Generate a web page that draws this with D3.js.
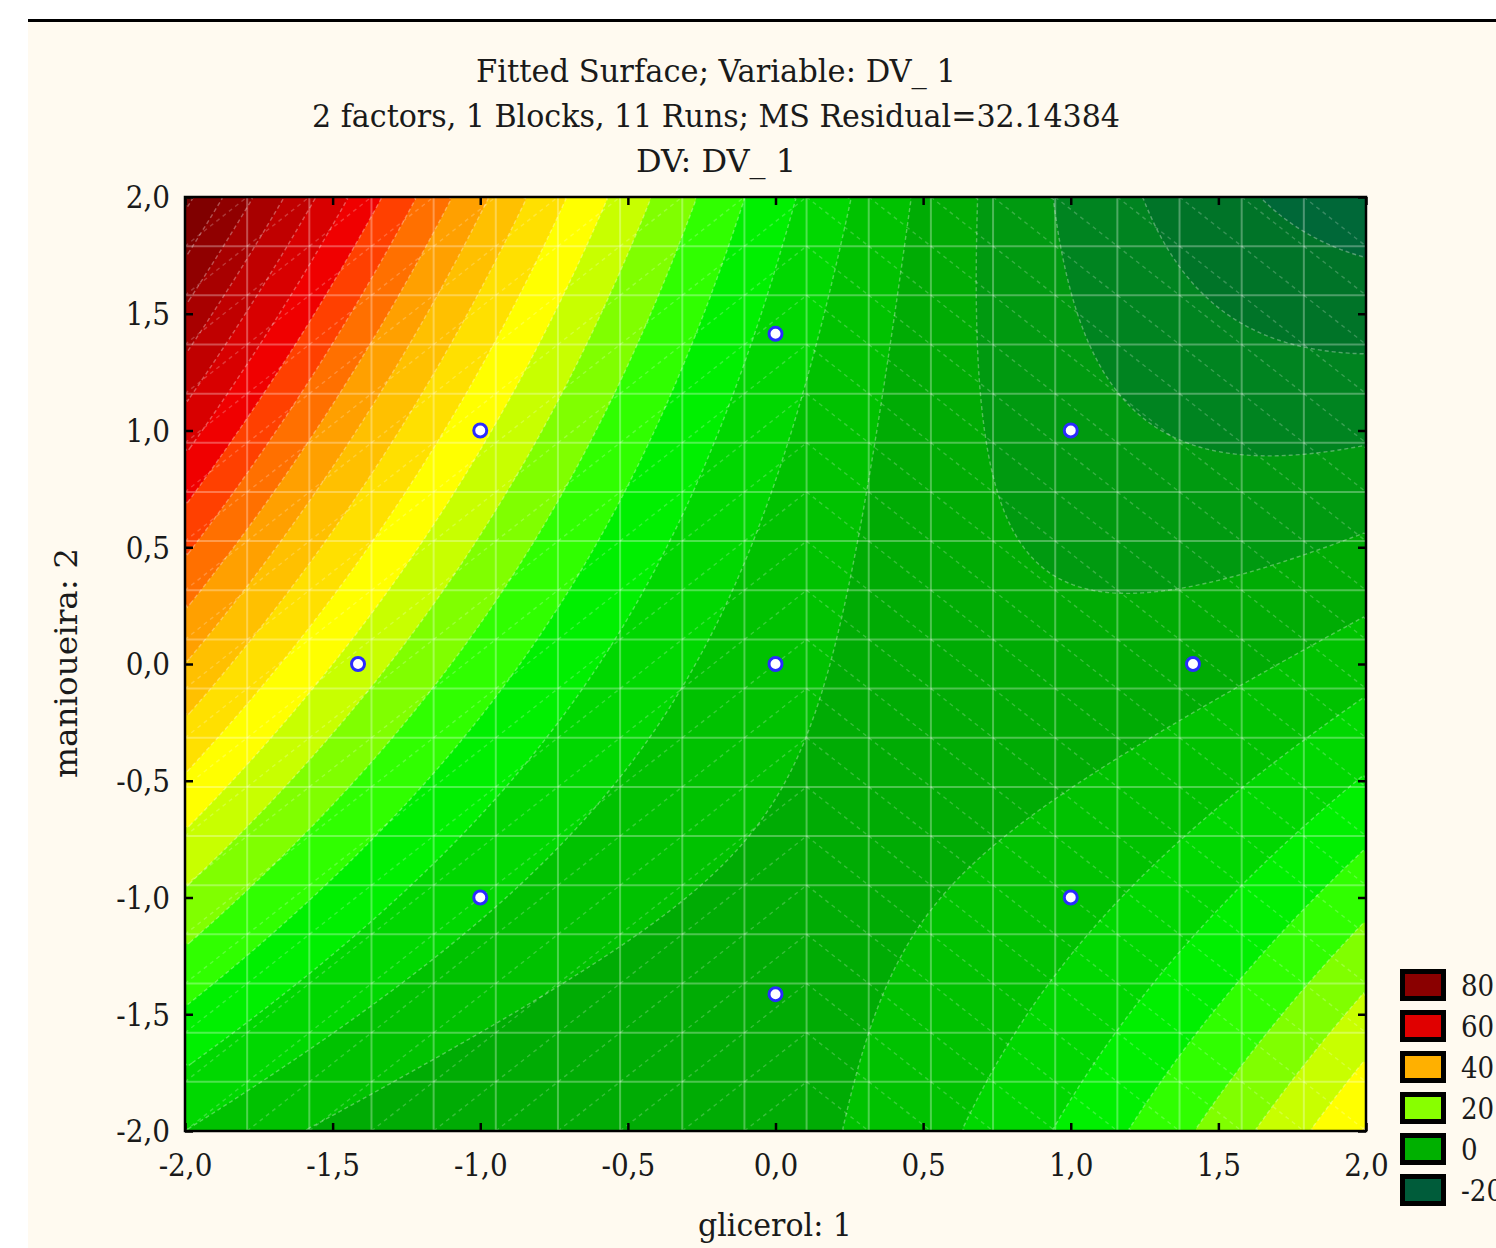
<!DOCTYPE html>
<html><head><meta charset="utf-8">
<script src="https://cdn.jsdelivr.net/npm/d3@7"></script>
<style>html,body{margin:0;padding:0;background:#fff;} svg{display:block}</style>
</head><body><svg id="c" width="1496" height="1248"></svg>
<script>
// ---------------- data ----------------
const titleLines = ["Fitted Surface; Variable: DV_ 1", "2 factors, 1 Blocks, 11 Runs; MS Residual=32.14384", "DV: DV_ 1"];
const xAxisLabel = "glicerol: 1";
const yAxisLabel = "manioueira: 2";
const xTickValues = [-2, -1.5, -1, -0.5, 0, 0.5, 1, 1.5, 2];
const yTickValues = [-2, -1.5, -1, -0.5, 0, 0.5, 1, 1.5, 2];
// fitted quadratic model (coded units): const, x, y, x^2, y^2, x*y
const modelTerms = ["const", "x", "y", "x2", "y2", "xy"];
const modelCoefficients = [1.75, -10.5, 3.5, 5.56, 0.81, -9.06];
// design runs (central composite design)
const designX = [-1, 1, -1, 1, -1.414, 1.414, 0, 0, 0];
const designY = [-1, -1, 1, 1, 0, 0, -1.414, 1.414, 0];
// contour levels (lower bound of each band) and band colours
const contourLevels = [-25, -20, -15, -10, -5, 0, 5, 10, 15, 20, 25, 30, 35, 40, 45, 50, 55, 60, 65, 70, 75, 80, 85, 90];
const levelColors = ["#006838", "#007428", "#008420", "#009a10", "#00ac04", "#00c200", "#00d800", "#00f000",
  "#30ff00", "#80ff00", "#c8ff00", "#ffff00", "#ffe000", "#ffc000", "#ffa000", "#ff7000",
  "#ff4000", "#f00000", "#d80000", "#c00000", "#a80000", "#900000", "#800000", "#700000"];
const legendValues = ["80", "60", "40", "20", "0", "-20"];
const legendColors = ["#8a0000", "#e00000", "#ffb000", "#88ff00", "#00b000", "#005c3a"];
const meshDivisions = 19;

// ---------------- layout ----------------
const svg = d3.select("#c");
const W = 1496, H = 1248;
const P = {l: 185, r: 1366, t: 197, b: 1131};
const FONT = "'DejaVu Serif Condensed','DejaVu Serif',serif";

svg.append("rect").attr("x", 28).attr("y", 22).attr("width", W - 28).attr("height", H - 22).attr("fill", "#fffaf0");
svg.append("line").attr("x1", 28).attr("x2", W).attr("y1", 20.5).attr("y2", 20.5).attr("stroke", "#000").attr("stroke-width", 3);

const x = d3.scaleLinear().domain([-2, 2]).range([P.l, P.r]);
const y = d3.scaleLinear().domain([-2, 2]).range([P.b, P.t]);
const color = d3.scaleOrdinal().domain(contourLevels).range(levelColors);

function model(a, b) {
  const c = modelCoefficients;
  return c[0] + c[1] * a + c[2] * b + c[3] * a * a + c[4] * b * b + c[5] * a * b;
}

// grid of fitted values
const n = 240, m = 240;
const values = new Array(n * m);
for (let j = 0; j < m; j++) for (let i = 0; i < n; i++) {
  const xv = -2 + 4 * (i + 0.5) / n;
  const yv = 2 - 4 * (j + 0.5) / m;
  values[j * n + i] = model(xv, yv);
}
const contours = d3.contours().size([n, m]).thresholds(contourLevels)(values);
const proj = d3.geoTransform({
  point: function (px, py) { this.stream.point(x(-2 + 4 * px / n), y(2 - 4 * py / m)); }
});
const path = d3.geoPath(proj);

svg.append("clipPath").attr("id", "clip").append("rect")
  .attr("x", P.l).attr("y", P.t).attr("width", P.r - P.l).attr("height", P.b - P.t);
const plot = svg.append("g").attr("clip-path", "url(#clip)");

plot.selectAll("path.band").data(contours).join("path").attr("class", "band")
  .attr("d", path).attr("fill", d => color(d.value)).attr("stroke", "none");
plot.selectAll("path.iso").data(contours.slice(1)).join("path").attr("class", "iso")
  .attr("d", path).attr("fill", "none").attr("stroke", "#ffffff").attr("stroke-opacity", 0.32)
  .attr("stroke-width", 1.4).attr("stroke-dasharray", "4,3");

// mesh
const mesh = d3.range(meshDivisions + 1).map(k => -2 + 4 * k / meshDivisions);
const diag = [];
for (let c = 0; c < meshDivisions; c++) for (let r = 0; r < meshDivisions; r++) {
  const x0 = mesh[c], x1 = mesh[c + 1], y0 = mesh[r], y1 = mesh[r + 1];
  if (c < 10) diag.push([x0, y0, x1, y1]); else diag.push([x0, y1, x1, y0]);
}
plot.selectAll("line.diag").data(diag).join("line").attr("class", "diag")
  .attr("x1", d => x(d[0])).attr("y1", d => y(d[1])).attr("x2", d => x(d[2])).attr("y2", d => y(d[3]))
  .attr("stroke", "#ffffff").attr("stroke-opacity", 0.22).attr("stroke-width", 1.4).attr("stroke-dasharray", "4,4");
plot.selectAll("line.gv").data(mesh).join("line").attr("class", "gv")
  .attr("x1", d => x(d)).attr("x2", d => x(d)).attr("y1", P.t).attr("y2", P.b)
  .attr("stroke", "#ffffff").attr("stroke-opacity", 0.3).attr("stroke-width", 2);
plot.selectAll("line.gh").data(mesh).join("line").attr("class", "gh")
  .attr("y1", d => y(d)).attr("y2", d => y(d)).attr("x1", P.l).attr("x2", P.r)
  .attr("stroke", "#ffffff").attr("stroke-opacity", 0.3).attr("stroke-width", 2);

// design points
svg.selectAll("circle.pt").data(designX.map((d, i) => [d, designY[i]])).join("circle").attr("class", "pt")
  .attr("cx", d => x(d[0])).attr("cy", d => y(d[1])).attr("r", 6.5)
  .attr("fill", "#ffffff").attr("stroke", "#2a2aff").attr("stroke-width", 3);

// frame
svg.append("rect").attr("x", P.l).attr("y", P.t).attr("width", P.r - P.l).attr("height", P.b - P.t)
  .attr("fill", "none").attr("stroke", "#000").attr("stroke-width", 2.5);

// axes (inward ticks on all sides)
const fmt = v => d3.format(".1f")(v).replace(".", ",").replace("−", "-");
const tl = 8;
const axB = svg.append("g").attr("transform", `translate(0,${P.b})`).call(d3.axisBottom(x).tickValues(xTickValues).tickSize(-tl).tickPadding(23).tickFormat(fmt));
const axT = svg.append("g").attr("transform", `translate(0,${P.t})`).call(d3.axisTop(x).tickValues(xTickValues).tickSize(-tl).tickFormat(""));
const axL = svg.append("g").attr("transform", `translate(${P.l},0)`).call(d3.axisLeft(y).tickValues(yTickValues).tickSize(-tl).tickPadding(15).tickFormat(fmt));
const axR = svg.append("g").attr("transform", `translate(${P.r},0)`).call(d3.axisRight(y).tickValues(yTickValues).tickSize(-tl).tickFormat(""));
[axB, axT, axL, axR].forEach(g => {
  g.select(".domain").remove();
  g.selectAll(".tick line").attr("stroke", "#000").attr("stroke-width", 2.5);
  g.selectAll(".tick text").attr("font-family", FONT).attr("font-size", 31).attr("fill", "#1a1a1a");
});
axB.selectAll(".tick text").attr("dy", "0.71em");
axL.selectAll(".tick text").attr("dy", "0.35em");

// titles
const titleY = [82, 127, 172];
const titleW = [480, 808, 160];
titleLines.forEach((t, i) => {
  svg.append("text").attr("x", 716).attr("y", titleY[i]).attr("text-anchor", "middle")
    .attr("font-family", FONT).attr("font-size", 31).attr("fill", "#1a1a1a")
    .attr("textLength", titleW[i]).attr("lengthAdjust", "spacingAndGlyphs").text(t);
});
svg.append("text").attr("x", 775).attr("y", 1236).attr("text-anchor", "middle")
  .attr("font-family", FONT).attr("font-size", 31).attr("fill", "#1a1a1a")
  .attr("textLength", 154).attr("lengthAdjust", "spacingAndGlyphs").text(xAxisLabel);
svg.append("text").attr("transform", "translate(77,663) rotate(-90)").attr("text-anchor", "middle")
  .attr("font-family", FONT).attr("font-size", 31).attr("fill", "#1a1a1a")
  .attr("textLength", 230).attr("lengthAdjust", "spacingAndGlyphs").text(yAxisLabel);

// legend
const lg = svg.append("g");
legendValues.forEach((v, i) => {
  const yy = 969 + i * 41;
  lg.append("rect").attr("x", 1402.5).attr("y", yy + 2.5).attr("width", 41).attr("height", 27)
    .attr("fill", legendColors[i]).attr("stroke", "#000").attr("stroke-width", 5);
  lg.append("text").attr("x", 1461).attr("y", yy + 27).attr("font-family", FONT).attr("font-size", 29)
    .attr("fill", "#1a1a1a").text(v);
});
</script></body></html>
